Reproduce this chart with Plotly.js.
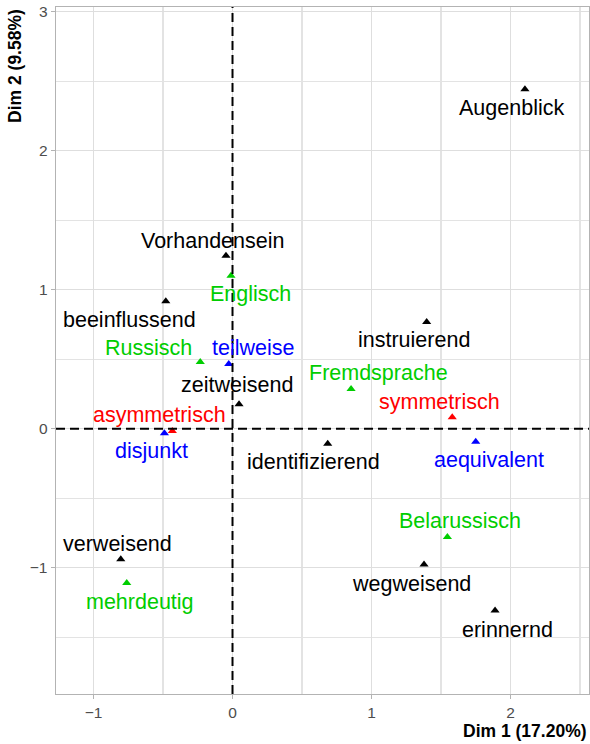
<!DOCTYPE html>
<html>
<head>
<meta charset="utf-8">
<script src="https://cdn.plot.ly/plotly-3.0.1.min.js"></script>
<style>html,body{margin:0;padding:0;background:#fff;}#chart{width:590px;height:744px;}</style>
</head>
<body>
<div id="chart"></div>
<script>
// ---- data ----
const labels = ["Augenblick","Vorhandensein","Englisch","beeinflussend","Russisch","teilweise","zeitweisend","asymmetrisch","disjunkt","instruierend","Fremdsprache","symmetrisch","identifizierend","aequivalent","verweisend","mehrdeutig","Belarussisch","wegweisend","erinnernd"];
const dim1 = [2.104,-0.047,-0.011,-0.480,-0.232,-0.027,0.047,-0.433,-0.490,1.397,0.853,1.581,0.685,1.750,-0.804,-0.761,1.546,1.378,1.889];
const dim2 = [2.442,1.245,1.100,0.917,0.480,0.465,0.175,-0.017,-0.033,0.768,0.286,0.082,-0.108,-0.094,-0.940,-1.110,-0.780,-0.978,-1.309];
const group = ["w","w","lang","w","lang","rel","w","sym","rel","w","lang","sym","w","rel","w","lang","lang","w","w"];
const xTitle = "Dim 1 (17.20%)";
const yTitle = "Dim 2 (9.58%)";

// ---- styling (not data) ----
const groupColor = {w:"#000000", lang:"#00CD00", rel:"#0000FF", sym:"#FF0000"};
// label offsets in pixels (repelled label placement)
const labelShift = [[-13,-19],[-13,15],[20,-18],[-36,-19],[-52,14],[24,16],[-2,19],[-13,16],[-13,-18],[-13,-18],[27,16],[-13,15],[-14,-18],[13,-18],[-3,15],[13,-19],[13,16],[-13,-19],[12,-19]];
const FONT = "Liberation Sans, Arial, sans-serif";

const groups = ["w","lang","rel","sym"];
const traces = groups.map(g => {
  const idx = labels.map((_, i) => i).filter(i => group[i] === g);
  return {
    type: "scatter", mode: "markers",
    x: idx.map(i => dim1[i]), y: idx.map(i => dim2[i]),
    marker: {symbol: "triangle-up", size: 8, color: groupColor[g], line: {width: 0}},
    hoverinfo: "skip", showlegend: false
  };
});

const annotations = labels.map((t, i) => ({
  x: dim1[i], y: dim2[i], xref: "x", yref: "y",
  text: t, showarrow: false,
  xshift: labelShift[i][0], yshift: labelShift[i][1],
  xanchor: "center", yanchor: "middle",
  font: {family: FONT, size: 21.5, color: groupColor[group[i]]}
}));
annotations.push({
  xref: "paper", yref: "paper", x: 1, y: -0.054, xanchor: "right", yanchor: "middle",
  text: "<b>" + xTitle + "</b>", showarrow: false,
  font: {family: FONT, size: 17.5, color: "#000"}
});
annotations.push({
  xref: "paper", yref: "paper", x: -0.077, y: 1, xanchor: "center", yanchor: "top",
  text: "<b>" + yTitle + "</b>", showarrow: false, textangle: -90,
  font: {family: FONT, size: 17.5, color: "#000"}
});

const axisCommon = {
  showgrid: true, gridcolor: "#DEDEDE", gridwidth: 1.4,
  minor: {dtick: 0.5, showgrid: true, gridcolor: "#E3E3E3", gridwidth: 1.1},
  zeroline: false, showline: true, mirror: true, linecolor: "#B3B3B3", linewidth: 1.4,
  ticks: "outside", ticklen: 4, tickcolor: "#B3B3B3", tickwidth: 1.2,
  tickfont: {family: FONT, size: 15.5, color: "#4D4D4D"},
  dtick: 1
};

const dashLine = {color: "#000000", width: 2, dash: "9px,5px"};
const layout = {
  width: 590, height: 744,
  margin: {l: 56, r: 1, t: 7, b: 50},
  paper_bgcolor: "#fff", plot_bgcolor: "#fff",
  xaxis: Object.assign({}, axisCommon, {range: [-1.27, 2.565], tick0: 0}),
  yaxis: Object.assign({}, axisCommon, {range: [-1.909, 3.034], tick0: 0}),
  shapes: [
    {type: "line", xref: "paper", yref: "y", x0: 0, x1: 1, y0: 0, y1: 0, layer: "above", line: dashLine},
    {type: "line", xref: "x", yref: "paper", x0: 0, x1: 0, y0: 0, y1: 1, layer: "above", line: dashLine}
  ],
  annotations: annotations,
  showlegend: false
};

Plotly.newPlot("chart", traces, layout, {displayModeBar: false, staticPlot: true});
</script>
</body>
</html>
